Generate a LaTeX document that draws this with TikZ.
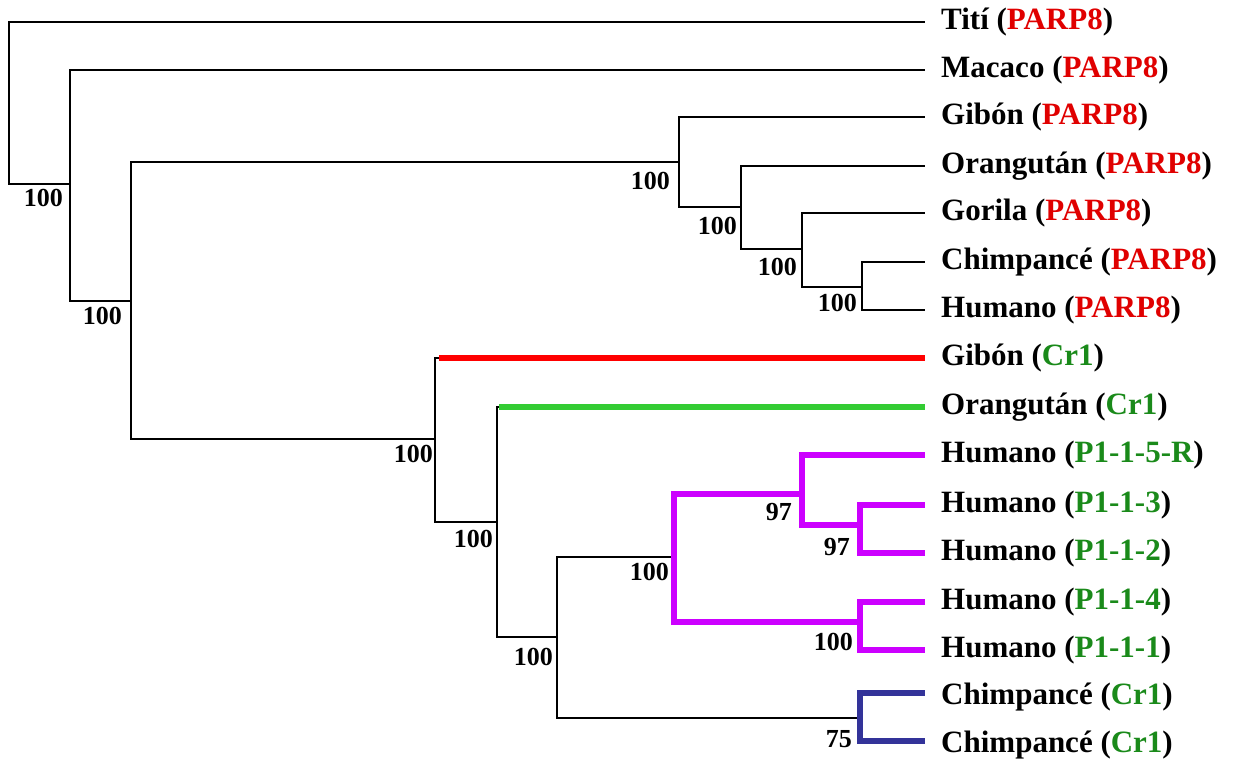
\documentclass[tikz,border=0pt]{standalone}
\usepackage{fontspec}
\setmainfont{Liberation Serif}
\usetikzlibrary{calc}
\definecolor{tred}{HTML}{E00000}
\definecolor{tgreen}{HTML}{1A8A1A}
\definecolor{lred}{HTML}{FF0000}
\definecolor{lgreen}{HTML}{33CC33}
\definecolor{lpurple}{HTML}{CC00FF}
\definecolor{lblue}{HTML}{333399}
\begin{document}
\begin{tikzpicture}[x=1pt,y=-1pt,
  edge/.style={line width=2.2pt, black},
  thick red/.style={line width=6.5pt, lred},
  thick green/.style={line width=6.5pt, lgreen},
  thick purple/.style={line width=6.5pt, lpurple},
  thick blue/.style={line width=6.5pt, lblue},
  leaf/.style={anchor=west, inner xsep=0pt, inner ysep=0pt, font=\fontsize{31}{34}\selectfont\bfseries},
  boot/.style={anchor=north east, inner sep=0pt, font=\fontsize{26}{28}\selectfont\bfseries}]
\useasboundingbox (0,0) rectangle (1235,763);
% leaves
\coordinate (l1) at (925,22);
\coordinate (l2) at (925,70);
\coordinate (l3) at (925,117);
\coordinate (l4) at (925,166);
\coordinate (l5) at (925,213);
\coordinate (l6) at (925,262);
\coordinate (l7) at (925,310);
\coordinate (l8) at (925,358);
\coordinate (l9) at (925,407);
\coordinate (l10) at (925,455);
\coordinate (l11) at (925,505);
\coordinate (l12) at (925,553);
\coordinate (l13) at (925,602);
\coordinate (l14) at (925,650);
\coordinate (l15) at (925,693);
\coordinate (l16) at (925,741);
% internal nodes
\coordinate (n1) at (9,103);
\coordinate (n2) at (70,184);
\coordinate (n3) at (131,301);
\coordinate (n4) at (679,162);
\coordinate (n6) at (741,207);
\coordinate (n7) at (802,249);
\coordinate (n8) at (862,287);
\coordinate (n5) at (435,439);
\coordinate (n9) at (497,522);
\coordinate (n10) at (557,637);
\coordinate (n11) at (674,557);
\coordinate (n13) at (802,494);
\coordinate (n15) at (860,525);
\coordinate (n14) at (860,622);
\coordinate (n12) at (860,718);
% black edges
\draw[edge] (n1) |- (l1);
\draw[edge] (n1) |- (n2);
\draw[edge] (n2) |- (l2);
\draw[edge] (n2) |- (n3);
\draw[edge] (n3) |- (n4);
\draw[edge] (n3) |- (n5);
\draw[edge] (n4) |- (l3);
\draw[edge] (n4) |- (n6);
\draw[edge] (n6) |- (l4);
\draw[edge] (n6) |- (n7);
\draw[edge] (n7) |- (l5);
\draw[edge] (n7) |- (n8);
\draw[edge] (n8) |- (l6);
\draw[edge] (n8) |- (l7);
\draw[edge] (n5) |- (l8);
\draw[edge] (n5) |- (n9);
\draw[edge] (n9) |- (l9);
\draw[edge] (n9) |- (n10);
\draw[edge] (n10) |- (n11);
\draw[edge] (n10) |- (n12);
% coloured edges
\draw[thick red] ($(n5 |- l8)+(4,0)$) -- (l8);
\draw[thick green] ($(n9 |- l9)+(2,0)$) -- (l9);
\draw[thick purple] (n11) |- (n13);
\draw[thick purple] (n11) |- (n14);
\draw[thick purple] (n13) |- (l10);
\draw[thick purple] (n13) |- (n15);
\draw[thick purple] (n15) |- (l11);
\draw[thick purple] (n15) |- (l12);
\draw[thick purple] (n14) |- (l13);
\draw[thick purple] (n14) |- (l14);
\draw[thick blue] (n12) |- (l15);
\draw[thick blue] (n12) |- (l16);
% leaf labels
\node[leaf] (t1) at ($(l1)+(16,0)$) {Tití (\textcolor{tred}{PARP8})};
\node[leaf] (t2) at ($(l2)+(16,0)$) {Macaco (\textcolor{tred}{PARP8})};
\node[leaf] (t3) at ($(l3)+(16,0)$) {Gibón (\textcolor{tred}{PARP8})};
\node[leaf] (t4) at ($(l4)+(16,0)$) {Orangután (\textcolor{tred}{PARP8})};
\node[leaf] (t5) at ($(l5)+(16,0)$) {Gorila (\textcolor{tred}{PARP8})};
\node[leaf] (t6) at ($(l6)+(16,0)$) {Chimpancé (\textcolor{tred}{PARP8})};
\node[leaf] (t7) at ($(l7)+(16,0)$) {Humano (\textcolor{tred}{PARP8})};
\node[leaf] (t8) at ($(l8)+(16,0)$) {Gibón (\textcolor{tgreen}{Cr1})};
\node[leaf] (t9) at ($(l9)+(16,0)$) {Orangután (\textcolor{tgreen}{Cr1})};
\node[leaf] (t10) at ($(l10)+(16,0)$) {Humano (\textcolor{tgreen}{P1-1-5-R})};
\node[leaf] (t11) at ($(l11)+(16,0)$) {Humano (\textcolor{tgreen}{P1-1-3})};
\node[leaf] (t12) at ($(l12)+(16,0)$) {Humano (\textcolor{tgreen}{P1-1-2})};
\node[leaf] (t13) at ($(l13)+(16,0)$) {Humano (\textcolor{tgreen}{P1-1-4})};
\node[leaf] (t14) at ($(l14)+(16,0)$) {Humano (\textcolor{tgreen}{P1-1-1})};
\node[leaf] (t15) at ($(l15)+(16,4)$) {Chimpancé (\textcolor{tgreen}{Cr1})};
\node[leaf] (t16) at ($(l16)+(16,4)$) {Chimpancé (\textcolor{tgreen}{Cr1})};
% bootstrap values
\node[boot] (b2) at ($(n2)+(-7,5)$) {100};
\node[boot] (b3) at ($(n3)+(-9,6)$) {100};
\node[boot] (b4) at ($(n4)+(-9,10)$) {100};
\node[boot] (b6) at ($(n6)+(-4,10)$) {100};
\node[boot] (b7) at ($(n7)+(-5,9)$) {100};
\node[boot] (b8) at ($(n8)+(-5,7)$) {100};
\node[boot] (b5) at ($(n5)+(-2,6)$) {100};
\node[boot] (b9) at ($(n9)+(-4,8)$) {100};
\node[boot] (b10) at ($(n10)+(-4,11)$) {100};
\node[boot] (b11) at ($(n11)+(-5,6)$) {100};
\node[boot] (b13) at ($(n13)+(-10,9)$) {97};
\node[boot] (b15) at ($(n15)+(-10,13)$) {97};
\node[boot] (b14) at ($(n14)+(-7,11)$) {100};
\node[boot] (b12) at ($(n12)+(-8,12)$) {75};
\end{tikzpicture}
\end{document}
